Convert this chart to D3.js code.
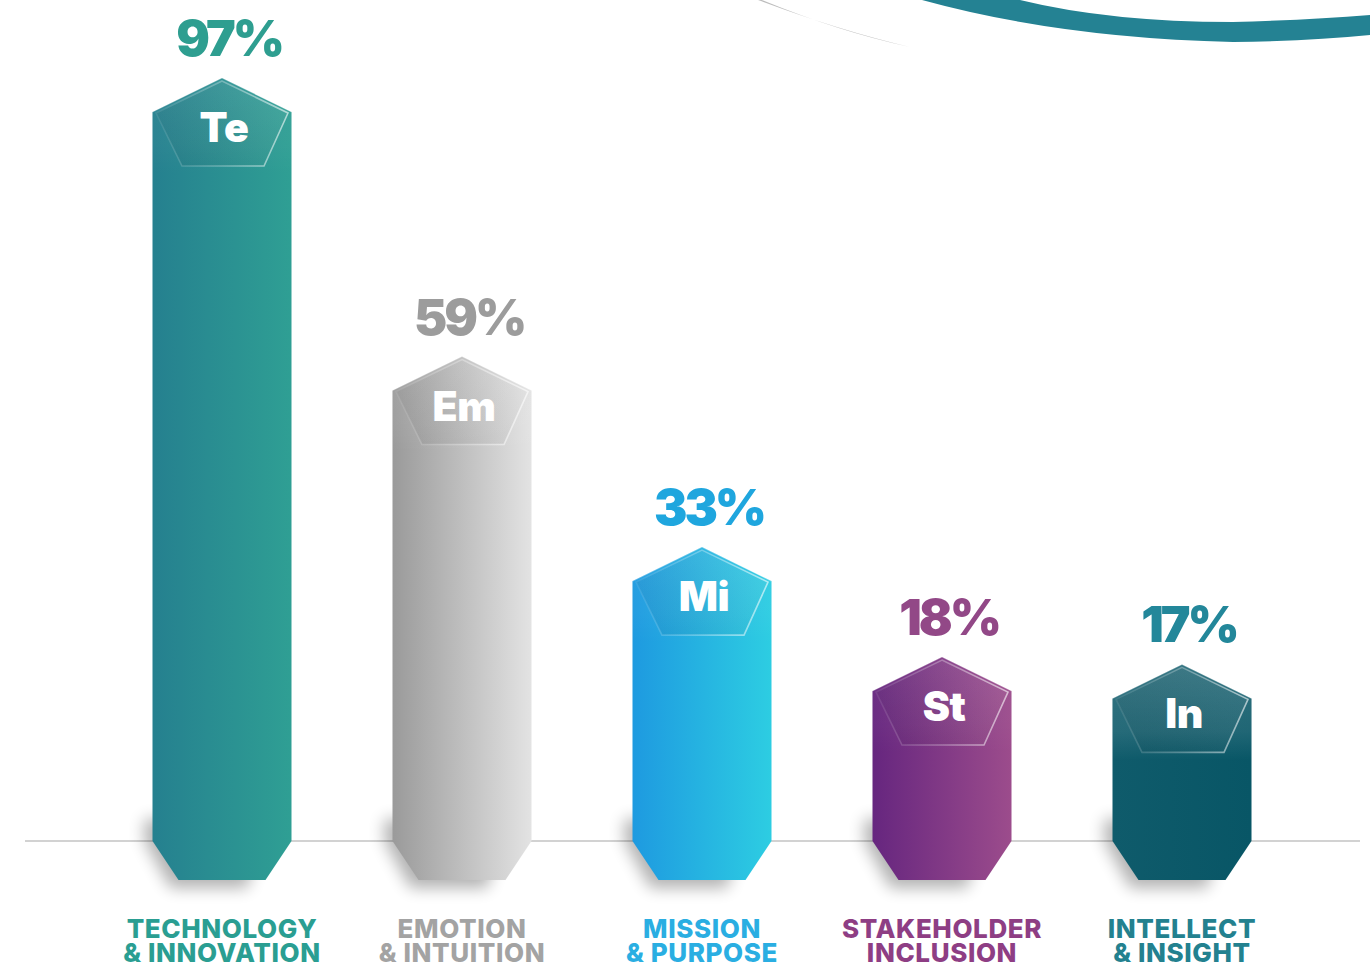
<!DOCTYPE html>
<html>
<head>
<meta charset="utf-8">
<script src="https://cdn.jsdelivr.net/npm/d3@7"></script>
<style>
  body { margin: 0; background: #fff; }
  svg { display: block; }
</style>
</head>
<body>
<div id="chart"></div>
<script>
// chart data
var categories = ["Te", "Em", "Mi", "St", "In"];
var labelLine1 = ["TECHNOLOGY", "EMOTION", "MISSION", "STAKEHOLDER", "INTELLECT"];
var labelLine2 = ["& INNOVATION", "& INTUITION", "& PURPOSE", "INCLUSION", "& INSIGHT"];
var values = [97, 59, 33, 18, 17];

// styling, per bar
var gradLeft  = ["#25808f", "#9a9a9a", "#1e9ae0", "#66267f", "#0f5b6b"];
var gradRight = ["#2f9f94", "#e3e3e3", "#2dcde2", "#9c4c8c", "#085666"];
var textColor = ["#2e9e90", "#9c9c9c", "#1fa6de", "#924887", "#23879a"];
var labelColor = ["#2a9e92", "#a3a3a3", "#2aaee2", "#8e3e84", "#23818f"];
var capGlow = [0.05, 0.08, 0.05, 0.05, 0.16];

var W = 1370, H = 967;
var baseY = 841, bottomY = 880, barW = 139, chamfer = 26, peakH = 34;

var svg = d3.select("#chart").append("svg")
    .attr("width", W)
    .attr("height", H);

var defs = svg.append("defs");

var x = d3.scalePoint()
    .domain(categories)
    .range([222, 1182]);

var y = d3.scaleLinear()
    .domain([0, 100])
    .range([823, 90]);

var data = categories.map(function (c, i) {
    return { key: c, value: values[i], i: i, l1: labelLine1[i], l2: labelLine2[i] };
});

// gradients
data.forEach(function (d) {
    var g = defs.append("linearGradient").attr("id", "grad" + d.i)
        .attr("x1", "0").attr("x2", "1").attr("y1", "0").attr("y2", "0");
    g.append("stop").attr("offset", "0").attr("stop-color", gradLeft[d.i]);
    g.append("stop").attr("offset", "1").attr("stop-color", gradRight[d.i]);

    var c = defs.append("linearGradient").attr("id", "cap" + d.i)
        .attr("x1", "0").attr("x2", "0").attr("y1", "0").attr("y2", "1");
    c.append("stop").attr("offset", "0").attr("stop-color", "#fff").attr("stop-opacity", capGlow[d.i]);
    c.append("stop").attr("offset", "0.7").attr("stop-color", "#fff").attr("stop-opacity", capGlow[d.i] * 0.6);
    c.append("stop").attr("offset", "1").attr("stop-color", "#fff").attr("stop-opacity", 0);
});

var inner = defs.append("linearGradient").attr("id", "innerStroke")
    .attr("x1", "0").attr("x2", "1").attr("y1", "0").attr("y2", "0");
inner.append("stop").attr("offset", "0").attr("stop-color", "#fff").attr("stop-opacity", 0.08);
inner.append("stop").attr("offset", "0.5").attr("stop-color", "#fff").attr("stop-opacity", 0.3);
inner.append("stop").attr("offset", "1").attr("stop-color", "#fff").attr("stop-opacity", 0.6);

var innerFill = defs.append("linearGradient").attr("id", "innerFill")
    .attr("x1", "0").attr("x2", "1").attr("y1", "1").attr("y2", "0");
innerFill.append("stop").attr("offset", "0").attr("stop-color", "#000").attr("stop-opacity", 0.06);
innerFill.append("stop").attr("offset", "1").attr("stop-color", "#fff").attr("stop-opacity", 0.08);

defs.append("filter").attr("id", "blur")
    .attr("x", "-50%").attr("y", "-50%").attr("width", "200%").attr("height", "200%")
    .append("feGaussianBlur").attr("stdDeviation", 8);

// decorative arcs top right
svg.append("path")
    .attr("d", "M762,0 Q840,32 910,47 Q838,30 758,0 Z")
    .attr("fill", "#bdbdbd");
svg.append("path")
    .attr("d", "M922,0 Q1060,38 1233,42 Q1310,41 1370,35 L1370,15 Q1310,20 1233,22 Q1110,22 1020,0 Z")
    .attr("fill", "#248293");

// baseline
svg.append("line")
    .attr("x1", 25).attr("x2", 1360)
    .attr("y1", baseY).attr("y2", baseY)
    .attr("stroke", "#d2d2d2")
    .attr("stroke-width", 2);

function barPath(d) {
    var cx = x(d.key), s = y(d.value), l = cx - barW / 2, r = cx + barW / 2;
    return "M" + cx + "," + (s - peakH) +
        "L" + r + "," + s +
        "L" + r + "," + baseY +
        "L" + (r - chamfer) + "," + bottomY +
        "L" + (l + chamfer) + "," + bottomY +
        "L" + l + "," + baseY +
        "L" + l + "," + s + "Z";
}

var bars = svg.selectAll(".bar")
    .data(data)
    .enter().append("g")
    .attr("class", "bar");

// soft shadow near the bottom
bars.append("path")
    .attr("d", function (d) {
        var cx = x(d.key) - 8, l = cx - barW / 2, r = cx + barW / 2;
        return "M" + l + "," + (baseY - 22) + "L" + (r - 20) + "," + (baseY - 22) +
            "L" + (r - chamfer - 10) + "," + (bottomY + 8) +
            "L" + (l + chamfer) + "," + (bottomY + 8) + "L" + l + "," + baseY + "Z";
    })
    .attr("fill", "#000")
    .attr("opacity", 0.3)
    .attr("filter", "url(#blur)");

bars.append("path")
    .attr("d", barPath)
    .attr("fill", function (d) { return "url(#grad" + d.i + ")"; });

// glassy cap
bars.append("path")
    .attr("d", function (d) {
        var cx = x(d.key), s = y(d.value), l = cx - barW / 2, r = cx + barW / 2;
        return "M" + cx + "," + (s - peakH) + "L" + r + "," + s + "L" + r + "," + (s + 62) +
            "L" + l + "," + (s + 62) + "L" + l + "," + s + "Z";
    })
    .attr("fill", function (d) { return "url(#cap" + d.i + ")"; });

// top edge highlight
bars.append("path")
    .attr("d", function (d) {
        var cx = x(d.key), s = y(d.value);
        return "M" + (cx - barW / 2) + "," + s + "L" + cx + "," + (s - peakH) + "L" + (cx + barW / 2) + "," + s;
    })
    .attr("fill", "none")
    .attr("stroke", "#fff")
    .attr("stroke-opacity", 0.25)
    .attr("stroke-width", 1.2);

// inner pentagon
bars.append("path")
    .attr("d", function (d) {
        var cx = x(d.key), s = y(d.value);
        return "M" + cx + "," + (s - 31) +
            "L" + (cx + 66) + "," + (s + 1) +
            "L" + (cx + 42) + "," + (s + 54) +
            "L" + (cx - 40) + "," + (s + 54) +
            "L" + (cx - 66) + "," + (s + 1) + "Z";
    })
    .attr("fill", "url(#innerFill)")
    .attr("stroke", "url(#innerStroke)")
    .attr("stroke-width", 1.6);

// symbol text
bars.append("text")
    .attr("x", function (d) { return x(d.key) + 2; })
    .attr("y", function (d) { return y(d.value) + 30; })
    .attr("text-anchor", "middle")
    .attr("fill", "#fff")
    .style("font-family", "Inter, Roboto, sans-serif")
    .style("font-weight", 900)
    .style("font-size", "41px")
    .style("letter-spacing", "-0.5px")
    .text(function (d) { return d.key; });

// value labels
bars.append("text")
    .attr("x", function (d) { return x(d.key) + 7; })
    .attr("y", function (d) { return y(d.value) - peakH - 22; })
    .attr("text-anchor", "middle")
    .attr("fill", function (d) { return textColor[d.i]; })
    .style("font-family", "Inter, Roboto, sans-serif")
    .style("font-weight", 900)
    .style("font-size", "50px")
    .style("letter-spacing", "-3px")
    .text(function (d) { return d.value + "%"; });

// category labels
var lab = bars.append("text")
    .attr("text-anchor", "middle")
    .attr("fill", function (d) { return labelColor[d.i]; })
    .style("font-family", "Inter, Roboto, sans-serif")
    .style("font-weight", 800)
    .style("font-size", "26px")
    .style("letter-spacing", "0.6px");
lab.append("tspan")
    .attr("x", function (d) { return x(d.key); })
    .attr("y", 938)
    .text(function (d) { return d.l1; });
lab.append("tspan")
    .attr("x", function (d) { return x(d.key); })
    .attr("y", 962)
    .text(function (d) { return d.l2; });
</script>
</body>
</html>
